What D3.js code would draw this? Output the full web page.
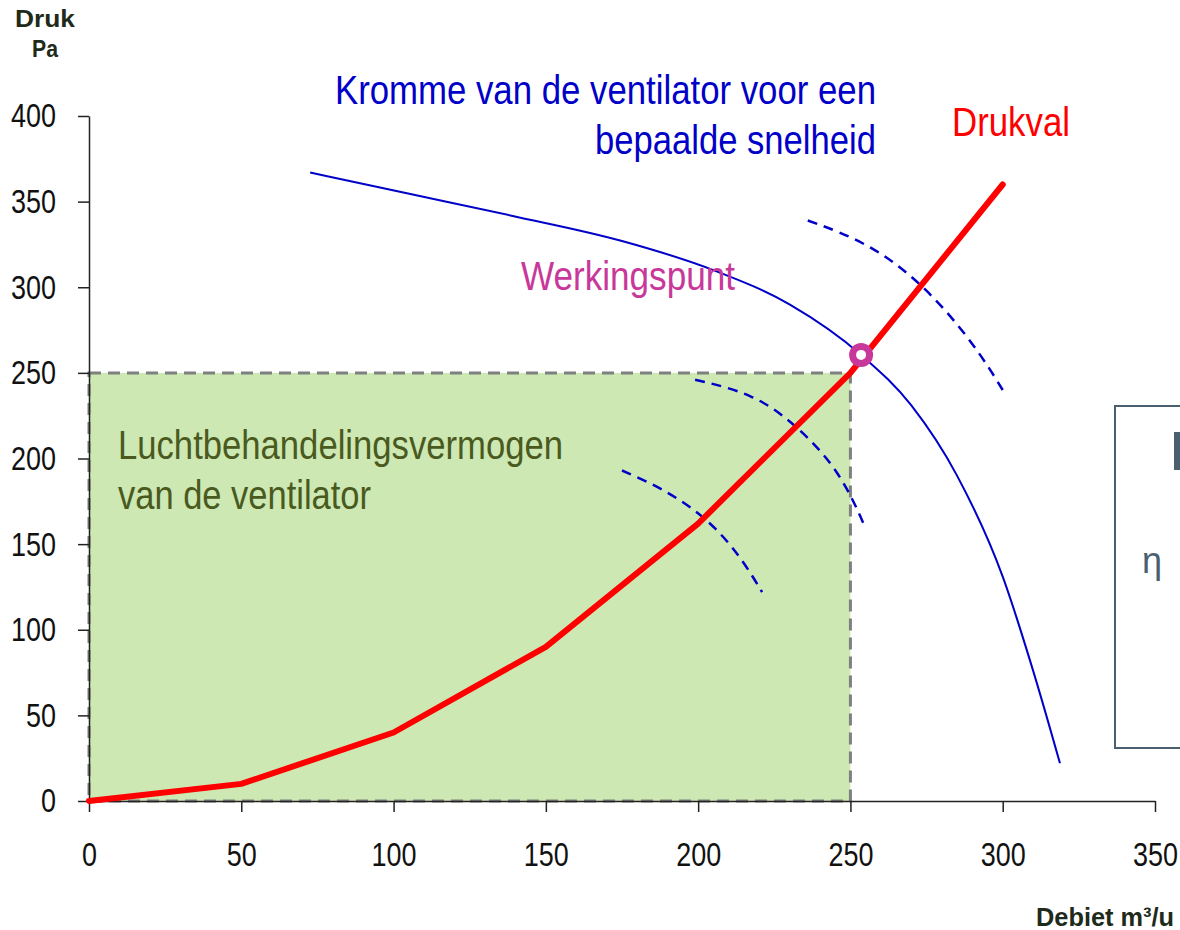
<!DOCTYPE html>
<html>
<head>
<meta charset="utf-8">
<script src="https://cdn.jsdelivr.net/npm/d3@7"></script>
<style>
  body { margin: 0; background: #fff; }
  text { font-family: "Liberation Sans", Arial, sans-serif; }
</style>
</head>
<body>
<div class="chart"></div>
<script>
// chart size
var svgWidth = 1180;
var svgHeight = 930;

// axis ticks
var xTicks = [0, 50, 100, 150, 200, 250, 300, 350];
var yTicks = [0, 50, 100, 150, 200, 250, 300, 350, 400];

// pressure drop (Drukval) of the system
var drukvalX = [0, 50, 100, 150, 200, 250, 300];
var drukvalY = [0, 10, 40, 90, 162, 250, 360];

// fan curve for one speed
var fanX = [72.6, 104, 139.5, 175, 205, 230, 253.5, 270, 285, 300, 310, 318.8];
var fanY = [367, 355, 341.5, 327, 310, 290, 260.5, 231, 190, 131, 76, 22];

// iso-efficiency arcs (dashed)
var eff1X = [175, 189, 203, 213.5, 221];
var eff1Y = [193, 182, 165, 144, 122];
var eff2X = [199, 218, 232, 246.5, 254.8];
var eff2Y = [246, 238, 220, 193, 160];
var eff3X = [236, 256, 274.5, 291, 300];
var eff3Y = [339, 326, 301, 266, 240];

// working point and air handling capacity
var werkingspunt = [253.5, 260.5];
var capacity = [250, 250];

var x = d3.scaleLinear().domain([0, 350]).range([89, 1155]);
var y = d3.scaleLinear().domain([0, 400]).range([801, 116]);

var svg = d3.select('.chart')
  .append('svg')
  .attr('width', svgWidth)
  .attr('height', svgHeight);

// green capacity area
svg.append('rect')
  .attr('x', x(0))
  .attr('y', y(capacity[1]))
  .attr('width', x(capacity[0]) - x(0))
  .attr('height', y(0) - y(capacity[1]))
  .attr('fill', '#cde8b3')
  .attr('stroke', '#7f7f7f')
  .attr('stroke-width', 3)
  .attr('stroke-dasharray', '12,7');

// axes
var xAxis = svg.append('g')
  .attr('transform', 'translate(0,' + y(0) + ')')
  .call(d3.axisBottom(x).tickValues(xTicks).tickSize(11).tickSizeOuter(0).tickPadding(30));
var yAxis = svg.append('g')
  .attr('transform', 'translate(' + x(0) + ',0)')
  .call(d3.axisLeft(y).tickValues(yTicks).tickSize(11).tickSizeOuter(0).tickPadding(22));

[xAxis, yAxis].forEach(function(ax) {
  ax.select('.domain').attr('stroke', '#222').attr('stroke-width', 1.5);
  ax.selectAll('.tick line').attr('stroke', '#222').attr('stroke-width', 1.5);
  ax.selectAll('.tick text')
    .attr('font-family', 'Liberation Sans, Arial, sans-serif')
    .attr('font-size', 34)
    .attr('fill', '#111')
    .attr('lengthAdjust', 'spacingAndGlyphs')
    .attr('textLength', function(d) { return String(d).length * 15; });
});

var line = d3.line().x(function(d) { return x(d[0]); }).y(function(d) { return y(d[1]); });

// dashed efficiency arcs
[[eff1X, eff1Y], [eff2X, eff2Y], [eff3X, eff3Y]].forEach(function(e) {
  svg.append('path')
    .datum(d3.zip(e[0], e[1]))
    .attr('d', line.curve(d3.curveBasis))
    .attr('fill', 'none')
    .attr('stroke', '#0000c8')
    .attr('stroke-width', 2.5)
    .attr('stroke-dasharray', '10,7');
});

// fan curve
svg.append('path')
  .datum(d3.zip(fanX, fanY))
  .attr('d', line.curve(d3.curveMonotoneX))
  .attr('fill', 'none')
  .attr('stroke', '#0000c8')
  .attr('stroke-width', 2);

// drukval
svg.append('path')
  .datum(d3.zip(drukvalX, drukvalY))
  .attr('d', line.curve(d3.curveLinear))
  .attr('fill', 'none')
  .attr('stroke', '#ff0000')
  .attr('stroke-width', 6)
  .attr('stroke-linecap', 'round')
  .attr('stroke-linejoin', 'round');

// working point
svg.append('circle')
  .attr('cx', x(werkingspunt[0]))
  .attr('cy', y(werkingspunt[1]))
  .attr('r', 8.5)
  .attr('fill', '#fff')
  .attr('stroke', '#c8389a')
  .attr('stroke-width', 7);

// right info box (cut off at the edge)
svg.append('rect')
  .attr('x', 1115).attr('y', 406)
  .attr('width', 100).attr('height', 342)
  .attr('fill', 'none')
  .attr('stroke', '#4a6070')
  .attr('stroke-width', 2);
svg.append('rect')
  .attr('x', 1174).attr('y', 432)
  .attr('width', 8).attr('height', 38)
  .attr('fill', '#4a6070');
svg.append('text')
  .attr('x', 1142).attr('y', 573)
  .attr('font-family', 'DejaVu Serif, serif')
  .attr('font-size', 36)
  .attr('fill', '#4a6070')
  .text('η');

// labels (condensed to the reference widths)
function label(txt, xx, yy, len, color, anchor) {
  return svg.append('text')
    .attr('x', xx).attr('y', yy)
    .attr('font-size', 40)
    .attr('fill', color)
    .attr('text-anchor', anchor)
    .attr('lengthAdjust', 'spacingAndGlyphs')
    .attr('textLength', len)
    .text(txt);
}

label('Kromme van de ventilator voor een', 876, 104, 541, '#0000c8', 'end');
label('bepaalde snelheid', 876, 154, 281, '#0000c8', 'end');
label('Drukval', 1070, 136, 118, '#ff0000', 'end');
label('Werkingspunt', 521, 290, 214, '#c8389a', 'start');
label('Luchtbehandelingsvermogen', 118, 459, 445, '#4a5a1e', 'start');
label('van de ventilator', 118, 509, 253, '#4a5a1e', 'start');

var unitY = ['Druk', 'Pa'];
var unitYLen = [60, 26];
svg.append('g').selectAll('text')
  .data(unitY)
  .join('text')
  .attr('x', 45)
  .attr('y', function(d, i) { return 27 + i * 30; })
  .attr('text-anchor', 'middle')
  .attr('font-weight', 'bold')
  .attr('font-size', 24)
  .attr('fill', '#1e2a1a')
  .attr('lengthAdjust', 'spacingAndGlyphs')
  .attr('textLength', function(d, i) { return unitYLen[i]; })
  .text(function(d) { return d; });

svg.append('text')
  .attr('x', 1174).attr('y', 926)
  .attr('text-anchor', 'end')
  .attr('font-weight', 'bold')
  .attr('font-size', 25)
  .attr('fill', '#1e2a1a')
  .attr('lengthAdjust', 'spacingAndGlyphs')
  .attr('textLength', 138)
  .text('Debiet m³/u');
</script>
</body>
</html>
